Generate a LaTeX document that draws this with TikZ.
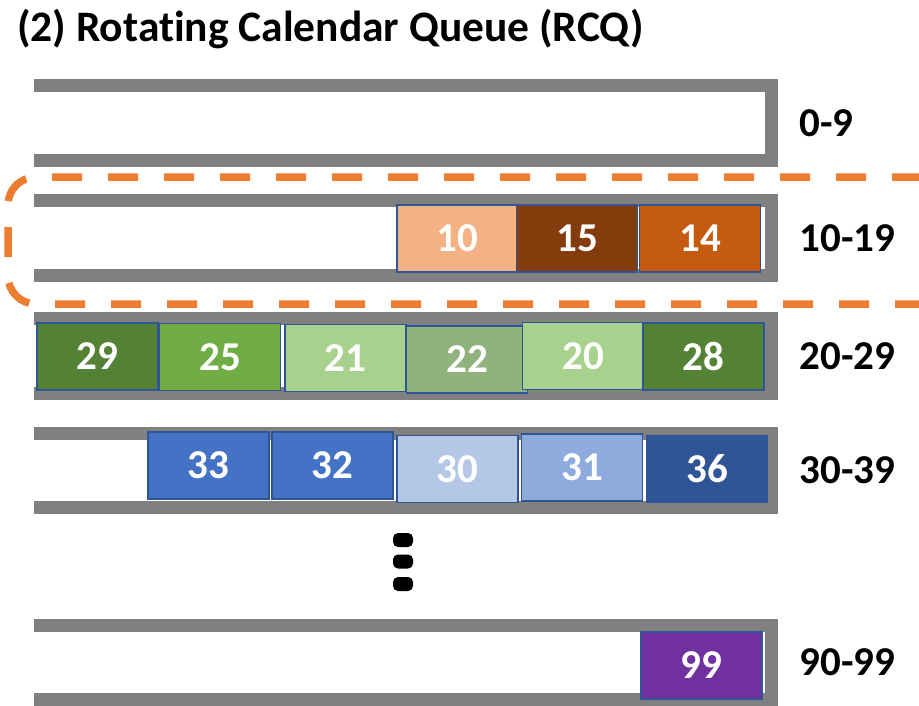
\documentclass[tikz,border=0pt]{standalone}
\usepackage{fontspec}
\setmainfont{Carlito}[Ligatures=NoCommon]
\usetikzlibrary{positioning}
\definecolor{bargray}{HTML}{808080}
\definecolor{dashorange}{HTML}{ED7D31}
\definecolor{slotedge}{HTML}{2F5597}
\definecolor{peach}{HTML}{F4B183}
\definecolor{rust}{HTML}{843C0C}
\definecolor{burnt}{HTML}{C55A11}
\definecolor{darkgreen}{HTML}{548235}
\definecolor{midgreen}{HTML}{70AD47}
\definecolor{palegreen}{HTML}{A9D18E}
\definecolor{sagegreen}{HTML}{90B27C}
\definecolor{midblue}{HTML}{4472C4}
\definecolor{paleblue}{HTML}{B4C7E7}
\definecolor{softblue}{HTML}{8FAADC}
\definecolor{deepblue}{HTML}{2F5597}
\definecolor{plum}{HTML}{7030A0}

\begin{document}
\begin{tikzpicture}[x=1pt, y=-1pt,
 bucket/.style={draw=bargray, line width=13pt, line join=miter},
 slot/.style={draw=slotedge, line width=1.5pt, minimum width=121pt, minimum height=67pt,
   inner sep=0pt, text=white, font=\fontsize{41}{44}\selectfont\bfseries},
 rng/.style={anchor=west, font=\fontsize{41}{44}\selectfont\bfseries}]
\useasboundingbox (0,0) rectangle (919,705);
\node[anchor=west, inner sep=0pt, font=\fontsize{43.5}{48}\selectfont\bfseries] (title) at (17,29) {(2) Rotating Calendar Queue (RCQ)};
% buckets: top bar, bottom bar, range label
\foreach \t/\b/\lab [count=\i] in {85.5/160.5/0-9, 200.5/275.5/10-19, 318.5/393.5/20-29, 433.5/507.5/30-39, 625.5/699.5/90-99} {
 \draw[bucket] (34,\t) -- (771.5,\t) -- (771.5,\b) -- (34,\b);
 \node[rng] (r\i) at (796,{(\t+\b)/2}) {\lab};
}
% current bucket
\draw[dashorange, line width=7.5pt, dash pattern=on 30pt off 26pt, dash phase=48pt, rounded corners=28pt]
 (930,177) -- (8,177) -- (8,304) -- (930,304);
% queued packets
\node[slot, fill=peach] (s10) at (457.5,238.5) {10};
\node[slot, fill=rust] (s15) at (577,238.5) {15};
\node[slot, fill=burnt] (s14) at (700,238.5) {14};
\node[slot, fill=darkgreen] (s29) at (97.5,356.5) {29};
\node[slot, fill=midgreen] (s25) at (220,357) {25};
\node[slot, fill=palegreen] (s21) at (345.5,358) {21};
\node[slot, fill=sagegreen] (s22) at (467,359.5) {22};
\node[slot, fill=palegreen] (s20) at (583,356) {20};
\node[slot, fill=darkgreen] (s28) at (703.5,356.5) {28};
\node[slot, fill=midblue] (s33) at (208.5,465.5) {33};
\node[slot, fill=midblue] (s32) at (332.5,465.5) {32};
\node[slot, fill=paleblue] (s30) at (457.5,469) {30};
\node[slot, fill=softblue] (s31) at (582,467.5) {31};
\node[slot, fill=deepblue] (s36) at (707,469) {36};
\node[slot, fill=plum] (s99) at (701.5,665.5) {99};
% more buckets
\foreach \y in {540,561.5,584}
 \fill[black, rounded corners=5pt] (393,\y-7) rectangle (413,\y+7);
\end{tikzpicture}
\end{document}
